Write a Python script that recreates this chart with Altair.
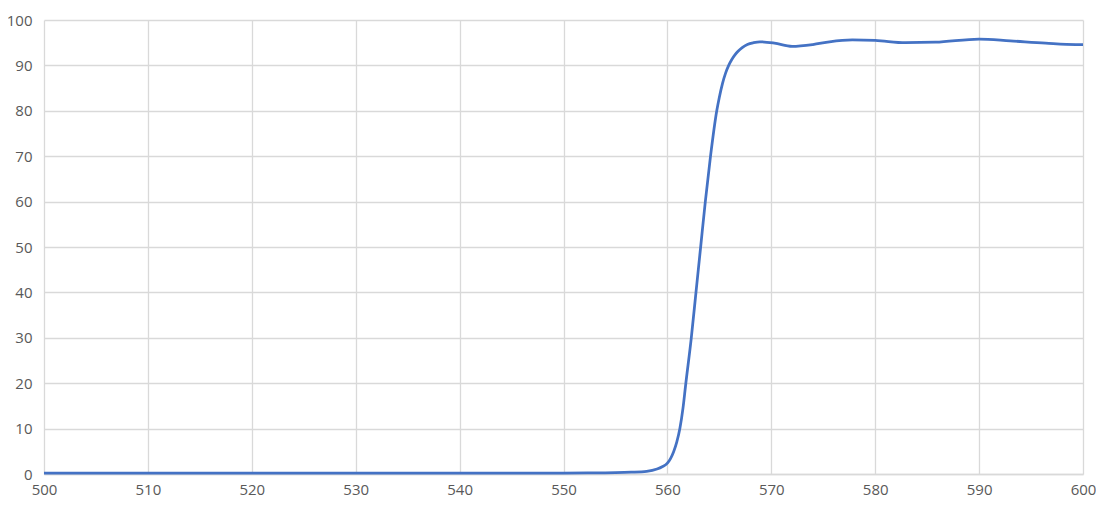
import altair as alt
import pandas as pd

wavelength = [500, 510, 520, 530, 540, 550, 553, 555, 556.5, 558, 559, 559.5, 560, 560.3,
              560.6, 560.9, 561.2, 561.5, 561.75, 562.3, 562.75, 563.2, 563.65, 564.15,
              564.75, 565.0, 565.3, 565.6, 565.9, 566.2, 566.5, 566.8, 567.2, 567.7, 568.3,
              568.9, 570.3, 572, 574, 575.6, 577.8, 580, 582.9, 585.8, 590, 593, 596.4,
              599.3, 600]
transmission = [0.2, 0.2, 0.2, 0.2, 0.2, 0.2, 0.25, 0.3, 0.4, 0.6, 1.1, 1.6, 2.4, 3.4,
                4.9, 7.0, 10, 14.5, 19.5, 30, 40, 50, 60, 70,
                80, 83, 86, 88.3, 90, 91.3, 92.3, 93.1, 93.9, 94.6, 95.0,
                95.2, 94.9, 94.2, 94.6, 95.2, 95.6, 95.5, 95.0, 95.1, 95.8, 95.4, 94.9,
                94.6, 94.6]
x_ticks = list(range(500, 601, 10))
y_ticks = list(range(0, 101, 10))

df = pd.DataFrame({"wl": wavelength, "t": transmission})

chart = alt.Chart(df).mark_line(
    color="#4472C4", strokeWidth=2.75, interpolate="monotone"
).encode(
    x=alt.X("wl:Q", scale=alt.Scale(domain=[500, 600], nice=False),
            axis=alt.Axis(values=x_ticks, title=None, labelPadding=8, ticks=False,
                          labelFlush=False, domainColor="#d9d9d9", domainWidth=1.5)),
    y=alt.Y("t:Q", scale=alt.Scale(domain=[0, 100], nice=False),
            axis=alt.Axis(values=y_ticks, title=None, labelPadding=12, ticks=False,
                          labelFlush=False, domain=False)),
).properties(
    width=1039, height=454,
    autosize=alt.AutoSizeParams(type="none"),
    padding={"left": 36, "top": 12, "right": 13, "bottom": 31},
).configure_axis(
    gridColor="#d9d9d9", gridWidth=1.3, labelColor="#595959",
    labelFont="Open Sans", labelFontSize=15,
).configure_view(stroke=None)

chart.save("out.html", embed_options={"renderer": "svg", "actions": False})
